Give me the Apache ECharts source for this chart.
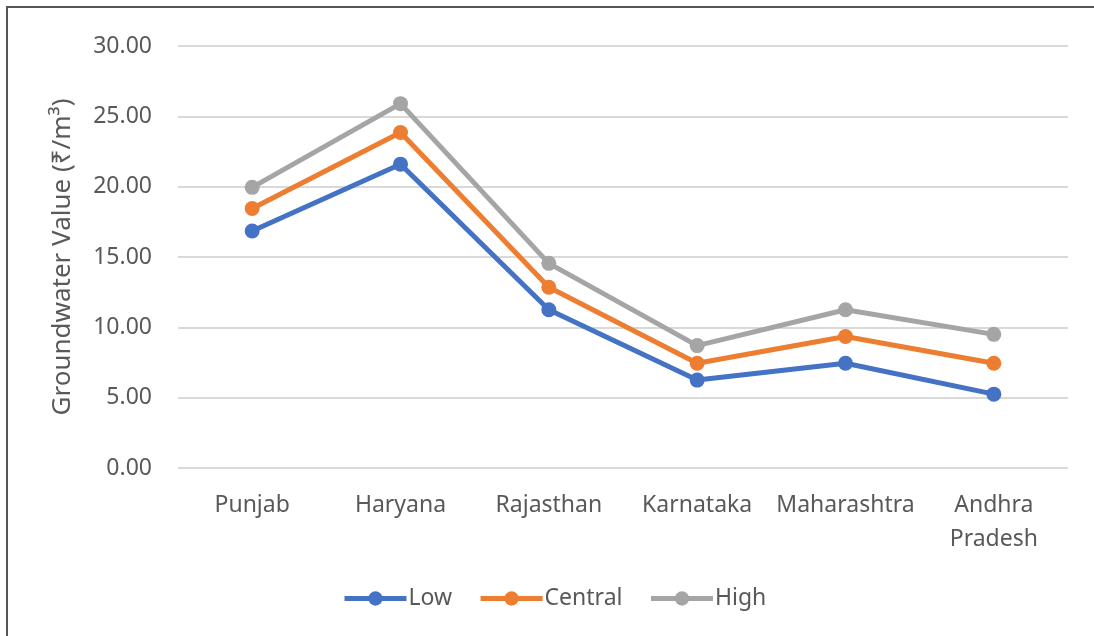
<!DOCTYPE html>
<html>
<head>
<meta charset="utf-8">
<script src="https://cdn.jsdelivr.net/npm/echarts@6/dist/echarts.min.js"></script>
<style>
html,body{margin:0;padding:0;background:#fff;}
#chart{width:1094px;height:636px;}
</style>
</head>
<body>
<div id="chart"></div>
<script>
const categories = ['Punjab', 'Haryana', 'Rajasthan', 'Karnataka', 'Maharashtra', 'Andhra\nPradesh'];
const lowValues = [16.85, 21.6, 11.25, 6.25, 7.45, 5.25];
const centralValues = [18.45, 23.85, 12.85, 7.45, 9.35, 7.45];
const highValues = [19.95, 25.9, 14.55, 8.7, 11.25, 9.5];
const yTicks = { min: 0, max: 30, interval: 5 };

const font = 'Noto Sans';
const chart = echarts.init(document.getElementById('chart'));
function lineSeries(name, data, color) {
  return {
    name, type: 'line', data,
    symbol: 'circle', symbolSize: 15,
    lineStyle: { width: 5, color },
    itemStyle: { color },
    emphasis: { disabled: true }
  };
}
chart.setOption({
  animation: false,
  backgroundColor: '#fff',
  color: ['#4472C4', '#ED7D31', '#A5A5A5'],
  grid: { left: 178, right: 26, top: 46, bottom: 168 },
  xAxis: {
    type: 'category', data: categories, boundaryGap: true,
    axisLine: { show: false }, axisTick: { show: false },
    axisLabel: { interval: 0, color: '#595959', fontSize: 23, fontFamily: font, margin: 20, lineHeight: 34 }
  },
  yAxis: {
    type: 'value', min: yTicks.min, max: yTicks.max, interval: yTicks.interval,
    name: 'Groundwater Value (₹/m³)', nameLocation: 'middle', nameGap: 102,
    nameTextStyle: { color: '#595959', fontSize: 26, fontFamily: font },
    axisLine: { show: false }, axisTick: { show: false },
    axisLabel: { color: '#595959', fontSize: 23, fontFamily: font, margin: 26, formatter: v => v.toFixed(2) },
    splitLine: { lineStyle: { color: '#D9D9D9', width: 2 } }
  },
  legend: {
    bottom: 21, left: 337, itemWidth: 62, itemHeight: 18, itemGap: 26,
    lineStyle: { width: 5 },
    textStyle: { color: '#595959', fontSize: 23, fontFamily: font, padding: [0, 0, 0, -3] },
    data: ['Low', 'Central', 'High']
  },
  graphic: [{
    type: 'polyline', silent: true,
    shape: { points: [[7, 636], [7, 7], [1094, 7]] },
    style: { stroke: '#555', lineWidth: 2, fill: null }
  }],
  series: [
    lineSeries('Low', lowValues, '#4472C4'),
    lineSeries('Central', centralValues, '#ED7D31'),
    lineSeries('High', highValues, '#A5A5A5')
  ]
});
</script>
</body>
</html>
